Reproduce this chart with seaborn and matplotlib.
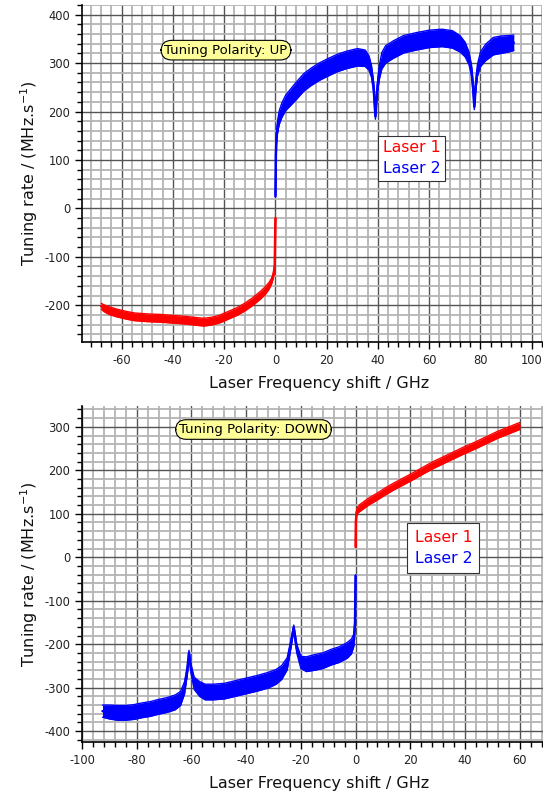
import numpy as np
import pandas as pd
import matplotlib
matplotlib.use("Agg")
import matplotlib.pyplot as plt
from matplotlib.ticker import MultipleLocator
from matplotlib.lines import Line2D
import seaborn as sns

# ---------------- data ----------------
# Top panel: Tuning Polarity UP
up_l1_x = [-68, -67, -65, -62, -58, -55, -50, -45, -40, -35, -30, -28, -25, -22,
           -18, -15, -12, -9, -6, -4, -2.5, -1.5, -0.8, -0.3, 0]
up_l1_y = [-202, -206, -211, -216, -221, -224, -226, -227, -229, -231, -234, -235,
           -233, -229, -220, -213, -204, -193, -180, -170, -160, -150, -138, -120, -20]
up_l1_s = [6, 7, 8, 8, 8, 8, 8, 8, 8, 8, 8, 8, 8, 8, 8, 8, 8, 8, 8, 8, 7, 6, 5, 3, 1]

up_l2_x = [0, 0.15, 0.4, 0.8, 1.5, 2.5, 4, 6, 8, 11, 14, 17, 20, 24, 28, 32, 35,
           36.5, 37.5, 38.3, 39, 39.7, 40.5, 41.5, 43, 46, 50, 55, 60, 65, 69, 72,
           74, 75.5, 76.5, 77.1, 77.6, 78.1, 78.8, 80, 82, 85, 88, 91, 93]
up_l2_y = [25, 110, 145, 168, 188, 203, 218, 230, 242, 260, 272, 282, 290, 300,
           307, 312, 310, 300, 282, 250, 190, 245, 280, 305, 318, 328, 339, 345,
           350, 352, 349, 340, 328, 310, 285, 250, 210, 250, 285, 308, 322, 335,
           338, 340, 342]
up_l2_s = [2, 6, 10, 12, 14, 15, 16, 17, 18, 18, 18, 18, 18, 18, 18, 18, 17,
           15, 12, 10, 6, 10, 14, 17, 18, 18, 18, 18, 18, 18, 18, 17, 15, 13,
           11, 9, 6, 9, 12, 15, 17, 18, 18, 17, 16]

# Bottom panel: Tuning Polarity DOWN
dn_l2_x = [-92.5, -90, -87, -84, -81, -78, -75, -72, -69, -66, -64, -62.5, -61.5,
           -60.9, -60.2, -59, -57, -55, -52, -48, -44, -40, -36, -32, -29, -27,
           -25, -23.8, -22.6, -21.5, -20, -18, -15, -12, -9, -6, -3, -1.5, -0.6,
           -0.2, 0]
dn_l2_y = [-354, -356, -358, -358, -356, -352, -349, -344, -340, -334, -325, -300,
           -260, -220, -255, -290, -303, -310, -310, -308, -302, -296, -290, -283,
           -275, -265, -245, -205, -162, -210, -242, -246, -242, -238, -230, -224,
           -214, -205, -190, -150, -42]
dn_l2_s = [14, 16, 17, 17, 17, 17, 17, 17, 17, 17, 16, 14, 10, 6, 10, 14, 17, 18,
           18, 18, 18, 18, 18, 18, 17, 16, 14, 10, 6, 10, 14, 17, 18, 18, 18, 18,
           18, 17, 14, 8, 1]

dn_l1_x = [0, 0.1, 0.3, 0.7, 1.5, 3, 5, 8, 11, 14, 17, 20, 24, 28, 32, 36, 40, 44,
           48, 52, 56, 60]
dn_l1_y = [24, 80, 100, 108, 113, 120, 129, 140, 152, 163, 173, 183, 197, 211,
           223, 235, 247, 258, 270, 282, 292, 302]
dn_l1_s = [1, 3, 6, 7, 8, 8, 8, 8, 8, 8, 8, 8, 8, 8, 8, 8, 8, 8, 8, 8, 8, 8]

series_names = ["Laser 1", "Laser 2"]
series_colors = {"Laser 1": "#ff0000", "Laser 2": "#0000ff"}
xlabel = "Laser Frequency shift / GHz"
ylabel = "Tuning rate / (MHz.s$^{-1}$)"
note_up = "Tuning Polarity: UP"
note_down = "Tuning Polarity: DOWN"

# ---------------- style ----------------
sns.set_theme(style="white")
plt.rcParams["font.family"] = ["DejaVu Sans"]
plt.rcParams["mathtext.default"] = "regular"
plt.rcParams["axes.unicode_minus"] = False

fig = plt.figure(figsize=(5.43, 7.99), dpi=100)
ax1 = fig.add_axes([82 / 543, 1 - 342 / 799, 460 / 543, 337 / 799])
ax2 = fig.add_axes([82 / 543, 1 - 742 / 799, 461 / 543, 336 / 799])


def draw_series(ax, xs, ys, ss, name):
    df = pd.DataFrame({"x": xs, "y": ys, "s": ss})
    df["lo"] = df["y"] - df["s"]
    df["hi"] = df["y"] + df["s"]
    col = series_colors[name]
    ax.fill_between(df["x"], df["lo"], df["hi"], color=col, lw=0, zorder=3)
    sns.lineplot(data=df, x="x", y="y", ax=ax, color=col, lw=1.8,
                 estimator=None, sort=False, zorder=4)
    sns.lineplot(data=df, x="x", y="lo", ax=ax, color=col, lw=1.0,
                 estimator=None, sort=False, zorder=4)
    sns.lineplot(data=df, x="x", y="hi", ax=ax, color=col, lw=1.0,
                 estimator=None, sort=False, zorder=4)


def style_axes(ax, xlim, ylim):
    ax.set_xlim(*xlim)
    ax.set_ylim(*ylim)
    ax.xaxis.set_major_locator(MultipleLocator(20))
    ax.xaxis.set_minor_locator(MultipleLocator(4))
    ax.yaxis.set_major_locator(MultipleLocator(100))
    ax.yaxis.set_minor_locator(MultipleLocator(20))
    ax.grid(which="minor", color="#b4b4b4", lw=1.3, zorder=0)
    ax.grid(which="major", color="#555555", lw=1.0, zorder=1)
    ax.set_axisbelow(True)
    for sp in ["top", "right"]:
        ax.spines[sp].set_visible(False)
    for sp in ["left", "bottom"]:
        ax.spines[sp].set_color("black")
        ax.spines[sp].set_linewidth(1.2)
        ax.spines[sp].set_zorder(5)
    ax.tick_params(which="both", direction="out", left=True, bottom=True,
                   top=False, right=False, color="black", width=1.0)
    ax.tick_params(which="major", length=5, pad=3.5)
    ax.tick_params(which="minor", length=3.5)
    for lab in ax.get_xticklabels() + ax.get_yticklabels():
        lab.set_fontfamily("DejaVu Sans")
        lab.set_fontsize(8.3)
        lab.set_color("#222222")
    ax.set_xlabel(xlabel, fontsize=11.5, labelpad=7, color="#111111")
    ax.xaxis.set_label_coords(0.515, -0.1)
    ax.set_ylabel(ylabel, fontsize=11.5, labelpad=3, color="#111111")


def add_note(ax, text, xf, yf):
    ax.text(xf, yf, text, transform=ax.transAxes, ha="center", va="center",
            fontsize=9.5, color="black", zorder=6,
            bbox=dict(boxstyle="round,pad=0.25,rounding_size=0.8",
                      fc="#ffff99", ec="black", lw=0.8))


def add_legend(ax, xf, yf, pad, spacing):
    handles = [Line2D([], [], color=series_colors[n], lw=0) for n in series_names]
    leg = ax.legend(handles, series_names, loc="center", bbox_to_anchor=(xf, yf),
                    bbox_transform=ax.transAxes, handlelength=0, handletextpad=0,
                    fontsize=11.3, frameon=True, fancybox=False, framealpha=1,
                    edgecolor="#333333", borderpad=pad, labelspacing=spacing,
                    borderaxespad=0,
                    labelcolor=[series_colors[n] for n in series_names])
    leg.get_frame().set_linewidth(0.8)
    leg.set_zorder(6)


# top panel
draw_series(ax1, up_l1_x, up_l1_y, up_l1_s, "Laser 1")
draw_series(ax1, up_l2_x, up_l2_y, up_l2_s, "Laser 2")
style_axes(ax1, (-75.5, 104), (-276, 420))
add_note(ax1, note_up, 0.313, 0.866)
add_legend(ax1, 0.717, 0.545, 0.3, 0.38)

# bottom panel
draw_series(ax2, dn_l1_x, dn_l1_y, dn_l1_s, "Laser 1")
draw_series(ax2, dn_l2_x, dn_l2_y, dn_l2_s, "Laser 2")
style_axes(ax2, (-100, 68.5), (-425, 348))
add_note(ax2, note_down, 0.372, 0.930)
add_legend(ax2, 0.784, 0.577, 0.45, 0.4)

fig.savefig("out.png", dpi=100)
